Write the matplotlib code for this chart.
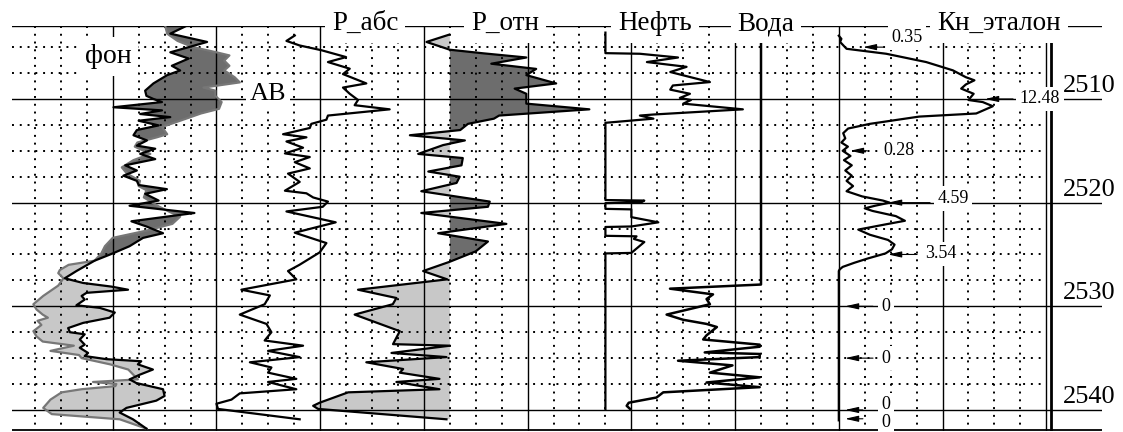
import numpy as np
import matplotlib
matplotlib.use('Agg')
import matplotlib.pyplot as plt

plt.rcParams['font.family'] = ['Liberation Serif', 'DejaVu Serif']

# depth (m) and curve readings in chart grid divisions (one division = one grid column)
av_depth = [2503.0, 2503.7, 2504.5, 2505.5, 2506.1, 2506.8, 2507.25, 2507.7, 2508.5, 2509.2,
            2509.7, 2510.0, 2510.3, 2510.8, 2511.1, 2511.45, 2511.75, 2512.1, 2512.55, 2513.0,
            2513.5, 2514.0, 2514.5, 2514.8, 2515.3, 2515.8, 2516.4, 2516.9, 2517.4, 2517.9,
            2518.3, 2518.7, 2519.15, 2519.8, 2520.3, 2521.0, 2521.8, 2522.3, 2522.95, 2523.4,
            2524.2, 2524.9, 2525.6, 2526.6, 2527.3, 2527.75, 2528.1, 2528.4, 2528.7, 2529.0,
            2529.35, 2529.9, 2530.15, 2530.6, 2531.1, 2531.6, 2532.1, 2532.5, 2532.7, 2533.2,
            2533.7, 2534.0, 2534.5, 2534.8, 2535.1, 2535.3, 2535.6, 2536.1, 2536.6, 2537.05,
            2537.4, 2538.0, 2538.65, 2539.1, 2539.8, 2540.25, 2540.9, 2541.8]
av_value = [6.8, 6.22, 7.64, 6.22, 6.93, 6.28, 6.6, 6.1, 5.57, 5.25,
            5.3, 5.57, 5.9, 4.03, 5.9, 5.06, 6.22, 5.0, 5.77, 4.93,
            4.8, 5.32, 4.93, 5.64, 5.06, 5.64, 4.48, 4.93, 4.41, 4.93,
            5.0, 6.09, 5.25, 5.77, 4.65, 7.15, 4.72, 5.3, 5.94, 5.17,
            4.65, 4.0, 3.3, 2.6, 2.15, 2.86, 3.95, 4.59, 2.99, 2.8,
            2.92, 2.6, 3.5, 4.08, 3.88, 2.86, 2.28, 2.35, 2.92, 2.73,
            2.92, 2.73, 3.05, 2.92, 3.76, 5.1, 4.97, 5.55, 5.04, 4.65,
            4.91, 5.94, 6.0, 5.68, 4.53, 4.27, 4.78, 5.3]

fon_depth = [2503.0, 2503.7, 2504.4, 2505.0, 2505.5, 2505.8, 2506.3, 2506.8, 2507.25, 2507.9,
             2508.4, 2508.9, 2509.2, 2509.7, 2510.3, 2510.95, 2511.4, 2512.1, 2512.7, 2513.4,
             2513.7, 2514.2, 2514.6, 2515.3, 2515.9, 2516.6, 2517.2, 2517.9, 2518.4, 2518.8,
             2519.5, 2520.4, 2520.9, 2521.35, 2522.05, 2522.7, 2523.4, 2524.2, 2524.9, 2525.6,
             2526.0, 2526.5, 2526.8, 2527.3, 2528.0, 2529.0, 2529.8, 2530.3, 2530.8, 2531.1,
             2531.4, 2531.8, 2532.4, 2532.9, 2533.4, 2533.8, 2534.3, 2534.7, 2535.0, 2535.6,
             2536.1, 2537.05, 2537.3, 2537.5, 2537.7, 2538.0, 2538.3, 2539.0, 2539.8, 2540.4,
             2540.9, 2541.8]
fon_value = [6.03, 6.1, 6.5, 7.1, 8.0, 8.5, 8.3, 8.5, 8.3, 8.7,
             8.9, 7.5, 7.96, 7.96, 8.2, 8.1, 7.4, 6.6, 5.9, 6.1,
             5.7, 4.95, 4.85, 5.45, 4.8, 4.35, 4.55, 5.05, 5.0, 5.3,
             5.2, 5.8, 6.2, 6.6, 6.3, 5.3, 4.0, 3.7, 3.56, 3.3,
             2.3, 1.96, 1.9, 2.1, 1.9, 1.32, 0.94, 1.06, 1.3, 1.5,
             1.1, 1.25, 0.94, 1.06, 1.3, 2.5, 1.6, 2.7, 2.8, 3.9,
             4.6, 4.97, 3.24, 4.14, 4.1, 2.8, 2.03, 1.6, 1.32, 1.65,
             4.27, 5.3]

pabs_depth = [2503.88, 2504.4, 2504.84, 2505.3, 2505.96, 2506.44, 2507.08, 2507.6, 2508.5, 2508.9,
              2509.5, 2510.1, 2510.6, 2511.0, 2511.6, 2512.0, 2512.4, 2512.8, 2513.4, 2513.7,
              2514.1, 2514.7, 2515.25, 2515.6, 2516.1, 2516.7, 2517.2, 2518.0, 2518.85, 2519.1,
              2519.5, 2519.9, 2520.4, 2520.85, 2521.9, 2522.9, 2523.9, 2524.8, 2526.0, 2526.6,
              2527.4, 2528.4, 2528.95, 2529.8, 2530.8, 2531.7, 2532.5, 2533.3, 2533.8, 2534.3,
              2534.9, 2535.4, 2535.9, 2536.4, 2537.0, 2537.3, 2538.0, 2538.4, 2539.0, 2539.4,
              2539.9, 2540.9]
pabs_value = [11.02, 10.7, 11.21, 12.05, 13.0, 12.3, 13.14, 12.88, 13.78, 12.88,
              13.14, 13.46, 13.33, 14.68, 12.3, 12.24, 11.66, 11.6, 10.57, 11.47,
              10.7, 11.34, 10.64, 11.6, 11.02, 11.6, 10.76, 11.21, 10.64, 11.47,
              11.73, 12.3, 12.1, 10.7, 12.6, 11.02, 12.24, 11.98, 11.2, 10.76,
              11.08, 8.96, 10.06, 9.86, 8.9, 9.93, 10.12, 9.86, 11.34, 9.99,
              11.21, 9.29, 10.12, 9.99, 11.08, 9.99, 11.08, 8.9, 8.58, 8.0,
              8.06, 11.21]

potn_depth = [2503.8, 2504.5, 2505.25, 2505.6, 2506.0, 2506.6, 2507.1, 2507.7, 2508.5, 2509.0,
              2509.5, 2510.45, 2511.0, 2511.6, 2511.9, 2512.4, 2513.0, 2513.5, 2514.0, 2514.45,
              2515.3, 2515.7, 2516.4, 2517.0, 2517.5, 2518.1, 2518.9, 2519.9, 2520.4, 2521.0,
              2522.05, 2522.95, 2523.75, 2524.7, 2525.7, 2526.6, 2527.4, 2528.4, 2529.2, 2529.8,
              2530.8, 2532.4, 2533.65, 2533.8, 2534.5, 2534.9, 2535.4, 2536.05, 2536.4, 2537.0,
              2537.3, 2538.0, 2538.3, 2539.3, 2539.6, 2539.9, 2540.9]
potn_value = [16.97, 16.1, 17.0, 18.3, 19.95, 18.6, 20.33, 19.95, 21.1, 19.5,
              19.95, 19.95, 22.38, 18.9, 18.7, 17.7, 17.4, 15.46, 17.58, 16.74,
              15.78, 17.5, 17.45, 16.17, 17.38, 17.26, 15.9, 18.54, 18.47, 15.9,
              19.18, 16.55, 18.47, 18.0, 17.0, 15.97, 16.9, 13.46, 14.94, 14.8,
              13.33, 15.07, 14.81, 17.0, 14.75, 16.87, 13.78, 15.2, 15.07, 16.6,
              14.94, 16.6, 13.08, 11.98, 11.73, 11.92, 16.87]
potn_base = 17.0

oil_depth = [2503.6, 2505.58, 2505.64, 2506.0, 2506.44, 2506.9, 2507.4, 2507.8, 2508.37, 2508.7,
             2509.1, 2509.5, 2509.9, 2510.1, 2510.45, 2511.0, 2511.5, 2511.6, 2511.9, 2512.3,
             2519.75, 2519.8, 2519.95, 2520.05, 2520.6, 2520.65, 2521.4, 2521.9, 2522.3, 2522.35,
             2523.2, 2523.25, 2523.5, 2523.8, 2524.85, 2524.9, 2539.9]
oil_value = [23.0, 23.0, 24.33, 25.8, 24.6, 26.13, 25.5, 26.13, 27.03, 25.6,
             25.5, 26.26, 25.87, 26.3, 26.0, 28.3, 24.85, 24.33, 24.85, 23.0,
             23.0, 24.5, 24.4, 23.0, 23.0, 24.0, 24.0, 25.04, 24.0, 23.0,
             23.0, 24.2, 24.1, 24.5, 24.0, 23.0, 23.0]

water_depth = [2503.0, 2527.9, 2528.3, 2528.85, 2529.3, 2529.8, 2530.8, 2531.3, 2531.7, 2532.0,
               2532.8, 2533.2, 2533.7, 2533.9, 2534.45, 2534.6, 2534.9, 2535.25, 2535.7, 2536.4,
               2536.85, 2537.35, 2537.8, 2538.3, 2538.8, 2539.3, 2539.6, 2539.9]
water_value = [29.0, 29.0, 25.49, 27.15, 26.9, 27.03, 25.36, 26.0, 26.9, 27.3,
               26.9, 26.77, 28.95, 28.95, 26.83, 28.95, 28.95, 25.8, 27.9, 27.03,
               28.95, 26.9, 28.95, 25.23, 24.97, 23.9, 23.82, 23.95]

kn_depth = [2503.9, 2504.2, 2504.5, 2505.16, 2505.64, 2506.44, 2507.24, 2507.9, 2508.2, 2508.6,
            2509.0, 2509.5, 2510.1, 2510.3, 2510.7, 2511.4, 2511.7, 2512.4, 2512.85, 2513.3,
            2513.8, 2514.2, 2514.6, 2515.0, 2515.5, 2515.9, 2516.4, 2516.9, 2517.4, 2517.9,
            2518.4, 2518.9, 2519.4, 2519.8, 2520.0, 2520.3, 2520.55, 2520.8, 2521.3, 2521.75,
            2522.1, 2522.6, 2523.1, 2523.6, 2524.05, 2524.5, 2524.9, 2525.4, 2525.8, 2526.2,
            2526.45, 2526.6, 2541.0]
kn_value = [32.0, 32.1, 32.05, 32.3, 33.83, 35.37, 36.4, 36.9, 37.23, 36.9,
            36.72, 37.2, 37.0, 37.55, 37.94, 37.3, 35.1, 33.2, 32.36, 32.17,
            32.25, 32.1, 32.35, 32.15, 32.45, 32.2, 32.5, 32.25, 32.5, 32.3,
            32.55, 32.3, 32.9, 33.7, 33.96, 33.4, 33.0, 33.3, 34.2, 34.55,
            33.8, 32.75, 33.2, 33.9, 34.15, 34.05, 33.8, 33.1, 32.6, 32.15,
            32.03, 32.0, 32.0]

# reference Kn values marked on the last track
kn_mark_depth = [2505, 2510, 2515, 2520, 2525, 2530, 2535, 2540, 2540.85]
kn_mark_text = ['0.35', '12.48', '0.28', '4.59', '3.54', '0', '0', '0', '0']
kn_mark_head = [32.93, 37.64, 32.43, 33.9, 33.9, 32.24, 32.24, 32.24, 32.24]
kn_mark_tail = [33.71, 38.72, 33.09, 35.52, 35.02, 33.32, 33.32, 32.93, 32.93]
kn_text_pos = [(34.63, 2504.1), (39.76, 2510.0), (34.32, 2515.0), (36.4, 2519.6),
               (35.94, 2524.95), (33.82, 2530.0), (33.82, 2535.0), (33.82, 2539.5),
               (33.82, 2541.25)]

track_titles = ['P_абс', 'P_отн', 'Нефть', 'Вода', 'Кн_эталон']
title_x = [13.73, 19.13, 24.91, 29.2, 38.18]
depth_ticks = [2510, 2520, 2530, 2540]

top, bottom = 2503.0, 2541.9
dark = '#6d6d6d'
light = '#c8c8c8'
dots = (0, (1, 3))

fig = plt.figure(figsize=(11.23, 4.32), dpi=100)
ax = fig.add_axes([12 / 1123, 1.3 / 432, 1090 / 1123, 404.3 / 432])
ax.set_xlim(0.116, 42.15)
ax.set_ylim(2542.0, 2503.0)
ax.axis('off')

# grid
for k in range(1, 41):
    if k % 4 == 0:
        ax.plot([k, k], [top, bottom], color='black', lw=1.0, zorder=2)
    else:
        ax.plot([k, k], [top, bottom], color='black', lw=1.4, ls=dots, zorder=2)
ax.plot([40.19, 40.19], [top, bottom], color='black', lw=2.0, zorder=2)

for d in np.arange(2505, 2540, 2.5):
    if d % 10 == 0:
        ax.plot([0.116, 42.15], [d, d], color='black', lw=1.0, zorder=2)
    else:
        ax.plot([0.116, 40], [d, d], color='black', lw=1.4, ls=dots, zorder=2)
ax.plot([0.116, 42.15], [2540, 2540], color='black', lw=1.0, zorder=2)
ax.plot([0.116, 42.15], [top, top], color='black', lw=1.0, zorder=2)
ax.plot([0.116, 42.15], [bottom, bottom], color='black', lw=1.3, zorder=2)

# track 1: AB vs background, dark above the contact, light below
split = 2525.6
av_d, av_u = np.array(av_depth), np.array(av_value)
fon_d, fon_u = np.array(fon_depth), np.array(fon_value)
for upper, col in [(True, dark), (False, light)]:
    ma = av_d <= split if upper else av_d >= split
    mf = fon_d <= split if upper else fon_d >= split
    xs = np.concatenate([av_u[ma], fon_u[mf][::-1]])
    ys = np.concatenate([av_d[ma], fon_d[mf][::-1]])
    ax.fill(xs, ys, color=col, lw=0, zorder=1)
ax.plot(fon_u, fon_d, color='#777777', lw=1.6, zorder=3)
ax.plot(av_u, av_d, color='black', lw=1.6, zorder=3)

# P_otn with fill around its base line
pd_, pu = np.array(potn_depth), np.array(potn_value)
ax.fill_betweenx(pd_, pu, potn_base, where=pu >= potn_base, interpolate=True,
                 color=dark, lw=0, zorder=1)
ax.fill_betweenx(pd_, pu, potn_base, where=pu <= potn_base, interpolate=True,
                 color=light, lw=0, zorder=1)
ax.plot(pu, pd_, color='black', lw=1.6, zorder=3)

ax.plot(pabs_value, pabs_depth, color='black', lw=1.6, zorder=3)
ax.plot(oil_value, oil_depth, color='black', lw=1.6, zorder=3)
ax.plot(water_value, water_depth, color='black', lw=1.8, zorder=3)
ax.plot(kn_value, kn_depth, color='black', lw=1.6, zorder=3)

# Kn reference marks
for d, txt, h, t, (tx, ty) in zip(kn_mark_depth, kn_mark_text, kn_mark_head,
                                  kn_mark_tail, kn_text_pos):
    ax.annotate('', xy=(h, d), xytext=(t, d),
                arrowprops=dict(arrowstyle='-|>,head_length=0.8,head_width=0.18',
                                color='black', lw=0.8, shrinkA=0, shrinkB=0),
                zorder=4)
    ax.text(tx, ty, txt, fontsize=13, ha='center', va='center', zorder=5,
            bbox=dict(boxstyle='square,pad=0.2', fc='white', ec='none'))

# labels
box = dict(boxstyle='square,pad=0.25', fc='white', ec='none')
for name, x in zip(track_titles, title_x):
    ax.text(x, 2503.35, name, fontsize=19.5, ha='center', va='baseline',
            zorder=5, bbox=box)
ax.text(3.82, 2506.53, 'фон', fontsize=20, ha='center', va='baseline', zorder=5, bbox=box)
ax.text(9.99, 2510.1, 'АВ', fontsize=19, ha='center', va='baseline', zorder=5,
        bbox=dict(boxstyle='square,pad=0.15', fc='white', ec='none'))

for d in depth_ticks:
    ax.annotate(str(d), xy=(41.65, d), xytext=(0, 5), textcoords='offset points',
                ha='center', va='baseline', fontsize=19, zorder=5)

fig.savefig('out.png', dpi=100)
